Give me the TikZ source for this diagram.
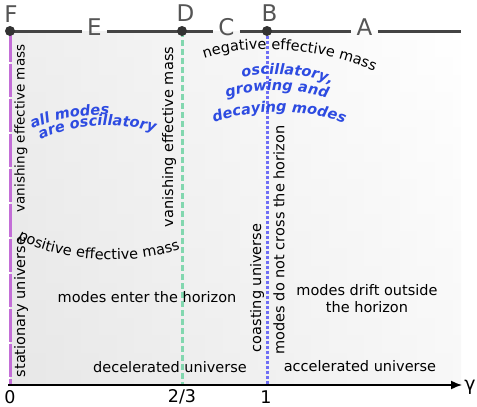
\documentclass[tikz,border=0pt]{standalone}
\usepackage{fontspec}
\setmainfont{DejaVu Sans}
\usepackage{xcolor}
\usepackage{tikz}
\usetikzlibrary{arrows.meta,positioning,calc,decorations.text}

\definecolor{lettergray}{HTML}{555555}
\definecolor{linegray}{HTML}{444444}
\definecolor{dotgray}{HTML}{333333}
\definecolor{statpurple}{RGB}{195,110,215}
\definecolor{radgreen}{RGB}{130,215,175}
\definecolor{coastblue}{RGB}{110,110,245}
\definecolor{modeblue}{RGB}{45,75,225}

\newcommand\txtfont{\fontsize{14.5}{17}\selectfont}
\newcommand\modefont{\fontsize{14.5}{17}\selectfont\bfseries\itshape\color{modeblue}}

\begin{document}
\begin{tikzpicture}[x=1pt,y=-1pt,
  every node/.style={font=\txtfont,inner sep=0pt},
  letter/.style={font=\fontsize{23}{23}\selectfont,text=lettergray,inner xsep=5pt,inner ysep=1pt},
  dot/.style={circle,fill=dotgray,minimum size=10pt,inner sep=0pt},
  tick/.style={font=\fontsize{17.5}{18}\selectfont},
  vlabel/.style={rotate=90},
  topline/.style={draw=linegray,line width=3pt},
  statline/.style={draw=statpurple,line width=3pt,dash pattern=on 33pt off 2pt,dash phase=2pt},
  radline/.style={draw=radgreen,line width=3pt,dash pattern=on 6pt off 3pt},
  coastline/.style={draw=coastblue,line width=3pt,dash pattern=on 2.5pt off 2.5pt},
  axis/.style={draw=black,line width=1.5pt,-{Latex[length=11pt,width=9pt]}},
  curved/.style={decorate,decoration={text along path,text align=center,text={#1}}}]
\useasboundingbox (0,0) rectangle (477,407);

% background
\shade[left color=black!10,middle color=black!7,right color=white] (10,31) rectangle (461,385);
\shade[top color=white,bottom color=black!8,opacity=0.35] (10,31) rectangle (461,385);

\coordinate (pF) at (10,31);
\coordinate (pD) at (182,31);
\coordinate (pB) at (267,31);
\coordinate (pEnd) at (461,31);
\coordinate (o) at (8,385);
\coordinate (xEnd) at (462,385);

% letters on the top line
\node[letter] (F) at (11,14) {F};
\node[letter] (E) at (94.5,27) {E};
\node[letter] (D) at (185.5,13.5) {D};
\node[letter] (C) at (226.5,27) {C};
\node[letter] (B) at (269.5,13.5) {B};
\node[letter] (A) at (364.5,27) {A};

\draw[topline] (pF) -- (E.west |- pF) (E.east |- pF) -- (C.west |- pF)
  (C.east |- pF) -- (A.west |- pF) (A.east |- pF) -- (pEnd);

\draw[statline] (pF) -- (pF |- o);
\draw[radline] (pD) -- (pD |- o);
\draw[coastline] (pB) -- (pB |- o);
\draw[axis] (o) -- (xEnd);

\foreach \p in {F,D,B}
  \node[dot] (dot\p) at (p\p) {};

\node[tick] (t0) at (10,397) {0};
\node[tick] (t23) at (182,397) {2/3};
\node[tick] (t1) at (266,397) {1};
\node[font=\fontsize{19}{19}\selectfont] (gamma) at (470,387) {γ};

% vertical labels
\node[vlabel,font=\fontsize{13.5}{16}\selectfont] (vanF) at (21,128.5) {vanishing effective mass};
\node[vlabel] (stat) at (21,307) {stationary universe};
\node[vlabel] (vanD) at (169,137) {vanishing effective mass};
\node[vlabel] (coast) at (257,288) {coasting universe};
\node[vlabel] (nocross) at (279,240) {modes do not cross the horizon};

% region labels
\node (enter) at (147,297) {modes enter the horizon};
\node (decel) at (170,367) {decelerated universe};
\node (accel) at (360,366) {accelerated universe};
\node[align=center] (drift) at (367,299) {modes drift outside\\the horizon};

% curved labels
\path[curved={|\txtfont|positive effective mass}] (14,236) .. controls (45,258) and (125,270) .. (184,248);
\path[curved={|\txtfont|negative effective mass}] (194,62) .. controls (230,46) and (310,40) .. (384,76);
\path[curved={|\modefont|all modes}] (28,131) .. controls (50,120) and (85,113) .. (114,115);
\path[curved={|\modefont|are oscillatory}] (36,142) .. controls (70,124) and (120,120) .. (160,134);
\path[curved={|\modefont|oscillatory,}] (236,80) .. controls (260,72) and (300,70) .. (338,87);
\path[curved={|\modefont|growing and}] (218,100) .. controls (250,88) and (300,87) .. (336,101);
\path[curved={|\modefont|decaying modes}] (206,126) .. controls (245,108) and (310,106) .. (352,127);
\end{tikzpicture}
\end{document}
